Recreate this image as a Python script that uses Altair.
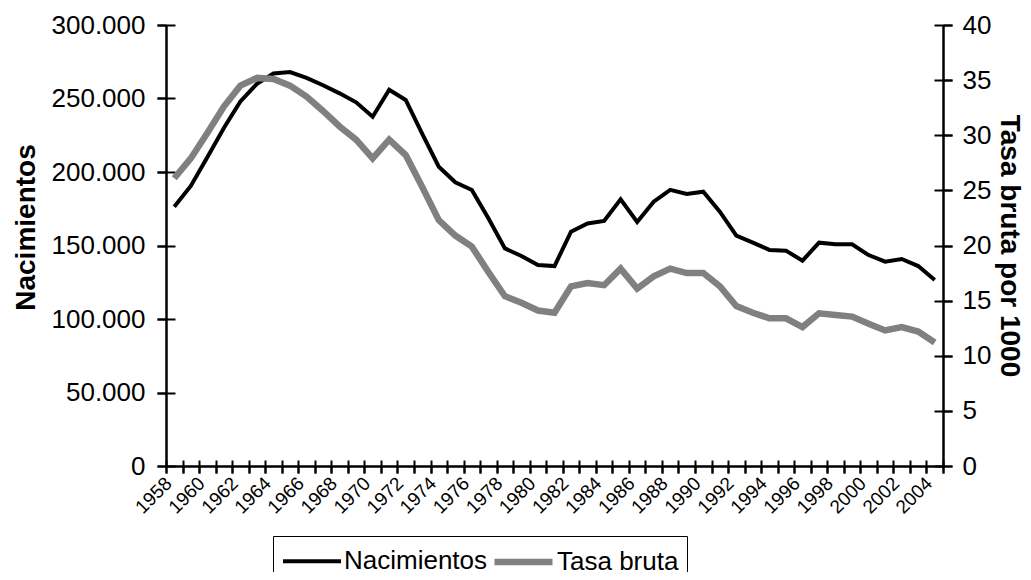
import altair as alt
import pandas as pd

years = list(range(1958, 2005))
nacimientos = [176400, 190500, 210000, 230000, 248000, 260000, 267000, 268000, 264000, 259000,
               253500, 247400, 237600, 256000, 249000, 226000, 203600, 193000, 187800, 168500,
               148000, 142900, 136700, 136000, 159400, 165000, 166700, 181400, 166000, 179800,
               187800, 185000, 186600, 173000, 156700, 151900, 147000, 146500, 139700, 151900,
               150800, 150800, 143500, 139000, 140800, 136000, 126500]
tasa = [26.1, 27.9, 30.2, 32.6, 34.5, 35.2, 35.1, 34.5, 33.5, 32.2,
        30.8, 29.6, 27.9, 29.6, 28.2, 25.3, 22.3, 20.9, 19.9, 17.6,
        15.4, 14.8, 14.1, 13.9, 16.3, 16.6, 16.4, 17.9, 16.1, 17.2,
        17.9, 17.5, 17.5, 16.3, 14.5, 13.9, 13.4, 13.4, 12.6, 13.85,
        13.7, 13.55, 12.9, 12.3, 12.6, 12.2, 11.2]
series_names = ["Nacimientos", "Tasa bruta"]
series_colors = ["#000000", "#808080"]
series_widths = [4, 6.5]
left_ticks = list(range(0, 300001, 50000))
right_ticks = list(range(0, 41, 5))

df = pd.DataFrame({"year": years, "nac": nacimientos, "tasa": tasa})

FONT = "Liberation Sans"
NB = "\u00a0"

x_scale = alt.Scale(type="band", paddingInner=0, paddingOuter=0)

x_main = alt.X(
    "year:O",
    scale=x_scale,
    axis=alt.Axis(
        title=None,
        orient="bottom",
        tickBand="extent",
        labelAngle=-45,
        labelAlign="right",
        labelBaseline="middle",
        labelFontSize=19,
        labelExpr="datum.value % 2 == 0 ? datum.label : ''",
        labelPadding=7,
        labelOffset=-6,
        tickSize=7,
    ),
)
x_cross = alt.X(
    "year:O",
    scale=x_scale,
    axis=alt.Axis(
        title=None,
        orient="bottom",
        tickBand="extent",
        labels=False,
        domain=False,
        offset=-6,
        tickSize=13,
    ),
)
x_none = alt.X("year:O", scale=x_scale, axis=None)

color_enc = lambda: alt.Color(
    "series:N",
    scale=alt.Scale(domain=series_names, range=series_colors),
    legend=alt.Legend(
        title=None,
        orient="none",
        direction="horizontal",
        legendX=107,
        legendY=511,
        symbolType="M-1,0H3",
        symbolSize=841,
        symbolStrokeWidth=4,
        labelFontSize=26,
        labelFont=FONT,
        labelColor="black",
        labelOffset=30,
        labelExpr=f"datum.label == 'Tasa bruta' ? '{NB}Tasa bruta{NB}{NB}' : datum.label",
        columnPadding=-7,
        padding=8,
        strokeColor="black",
        fillColor="white",
    ),
)
width_enc = lambda: alt.StrokeWidth(
    "series:N",
    scale=alt.Scale(domain=series_names, range=series_widths),
    legend=None,
)

y_nac_scale = alt.Scale(domain=[0, 300000])
y_tasa_scale = alt.Scale(domain=[0, 40])

black = alt.Chart(df).transform_calculate(series="'Nacimientos'").mark_line(strokeJoin="miter").encode(
    x=x_main,
    y=alt.Y(
        "nac:Q",
        scale=y_nac_scale,
        axis=alt.Axis(
            title="Nacimientos",
            orient="left",
            values=left_ticks,
            labelExpr="datum.value == 0 ? '0' : format(datum.value / 1000, 'd') + '.000'",
            labelPadding=12,
            titlePadding=11,
            titleY=202,
        ),
    ),
    color=color_enc(),
    strokeWidth=width_enc(),
)
black_cross = alt.Chart(df).mark_line(strokeOpacity=0).encode(
    x=x_cross,
    y=alt.Y(
        "nac:Q",
        scale=y_nac_scale,
        axis=alt.Axis(
            title=None, orient="left", values=left_ticks, labels=False,
            domain=False, offset=-9, tickSize=18,
        ),
    ),
)

gray = alt.Chart(df).transform_calculate(series="'Tasa bruta'").mark_line(strokeJoin="miter").encode(
    x=x_none,
    y=alt.Y(
        "tasa:Q",
        scale=y_tasa_scale,
        axis=alt.Axis(
            title="Tasa bruta por 1000",
            orient="right",
            values=right_ticks,
            labelPadding=10,
            titlePadding=4,
        ),
    ),
    color=color_enc(),
    strokeWidth=width_enc(),
)
gray_cross = alt.Chart(df).mark_line(strokeOpacity=0).encode(
    x=x_none,
    y=alt.Y(
        "tasa:Q",
        scale=y_tasa_scale,
        axis=alt.Axis(
            title=None, orient="right", values=right_ticks, labels=False,
            domain=False, offset=-9, tickSize=18,
        ),
    ),
)

left_group = alt.layer(black_cross, black).resolve_axis(x="independent", y="independent")
right_group = alt.layer(gray_cross, gray).resolve_axis(y="independent")

chart = (
    alt.layer(left_group, right_group)
    .resolve_scale(y="independent")
    .properties(
        width=777,
        height=441,
        autosize=alt.AutoSizeParams(type="none"),
        padding={"left": 158, "top": 17, "right": 80, "bottom": 106},
    )
    .configure_view(stroke=None)
    .configure_axis(
        grid=False,
        labelFont=FONT,
        labelFontSize=26,
        labelColor="black",
        titleFont=FONT,
        titleFontSize=28,
        titleFontWeight="bold",
        titleColor="black",
        domainColor="black",
        domainWidth=2.5,
        tickColor="black",
        tickWidth=2,
        tickSize=9,
    )
)

chart.save("out.html", embed_options={"renderer": "svg", "actions": False})
